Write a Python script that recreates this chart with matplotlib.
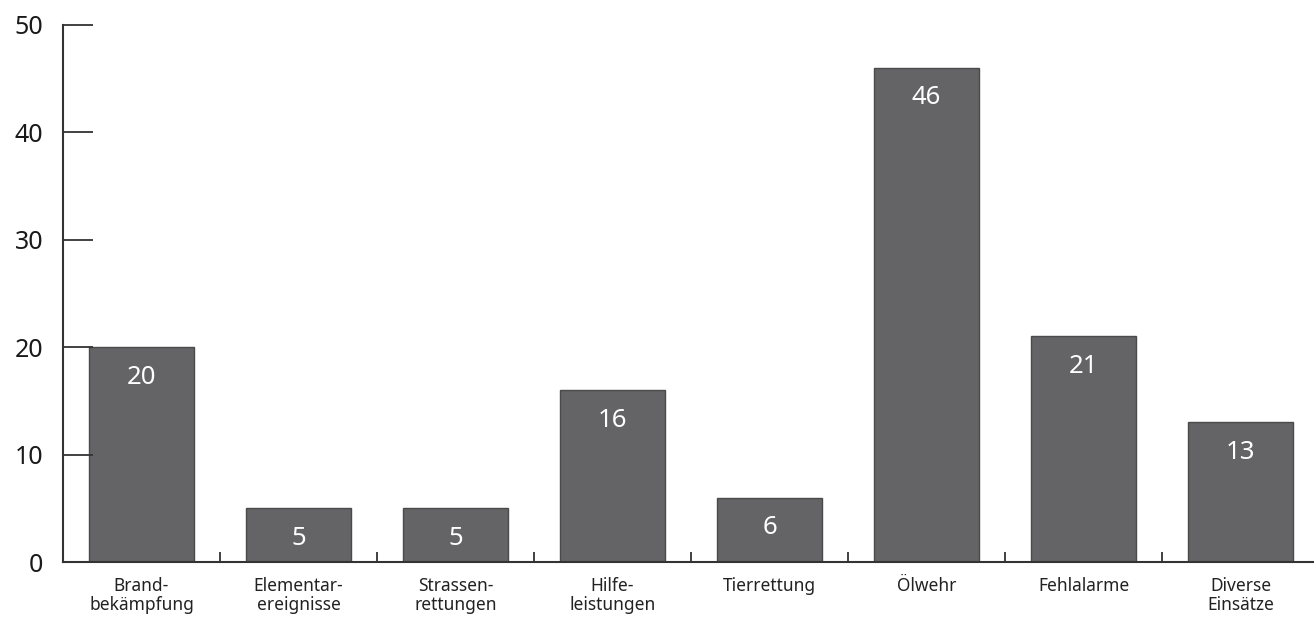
import matplotlib.pyplot as plt
import numpy as np

categories = ["Brand-\nbekämpfung", "Elementar-\nereignisse", "Strassen-\nrettungen",
              "Hilfe-\nleistungen", "Tierrettung", "Ölwehr", "Fehlalarme", "Diverse\nEinsätze"]
counts = [20, 5, 5, 16, 6, 46, 21, 13]
y_ticks = [0, 10, 20, 30, 40, 50]

plt.rcParams['font.family'] = ['Noto Sans', 'DejaVu Sans']

fig = plt.figure(figsize=(13.14, 6.17), dpi=100)
ax = fig.add_axes([63 / 1314, 55 / 617, 1256 / 1314, 537 / 617])

x = np.arange(len(categories))
bars = ax.bar(x, counts, width=0.675, color="#646466", edgecolor="#4a4a4a", linewidth=1)

# value labels inside the top of each bar
for rect, val in zip(bars, counts):
    ax.annotate(str(val), (rect.get_x() + rect.get_width() / 2, rect.get_height()),
                xytext=(0, -21.5), textcoords="offset points",
                ha="center", va="center", color="white", fontsize=18.5)

ax.set_xlim(-0.5, len(categories) - 0.5)
ax.set_ylim(0, 50)
ax.set_yticks(y_ticks)
ax.set_xticks(x)
ax.set_xticklabels(categories, fontsize=12.5, color="#222222", linespacing=1.05)
ax.set_xticks(x[:-1] + 0.5, minor=True)

for side in ["top", "right"]:
    ax.spines[side].set_visible(False)
for side in ["left", "bottom"]:
    ax.spines[side].set_linewidth(1.5)
    ax.spines[side].set_color("#333333")

ax.tick_params(axis="y", direction="in", length=21.6, width=1.3, pad=14,
               labelsize=18, colors="#333333", labelcolor="#1a1a1a")
ax.tick_params(axis="x", which="major", length=0, pad=11)
ax.tick_params(axis="x", which="minor", direction="in", length=7.5, width=1.3, colors="#333333")

plt.savefig("out.png", dpi=100)
